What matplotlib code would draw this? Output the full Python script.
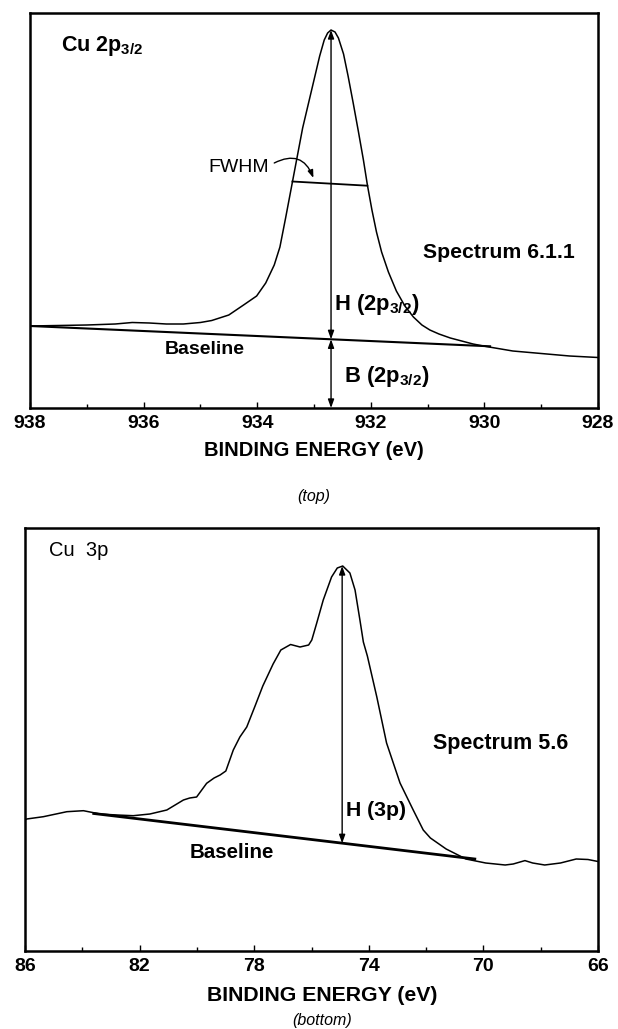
import matplotlib
matplotlib.use('Agg')
import matplotlib.pyplot as plt
from matplotlib.ticker import MultipleLocator

plt.rcParams['font.family'] = ['Liberation Sans', 'DejaVu Sans']
plt.rcParams['mathtext.fontset'] = 'custom'
plt.rcParams['mathtext.rm'] = 'Liberation Sans'
plt.rcParams['mathtext.bf'] = 'Liberation Sans:bold'

# Cu 2p3/2 spectrum (binding energy, intensity in arbitrary units)
be_2p = [938.0, 937.5, 937.0, 936.5, 936.2, 935.9, 935.6, 935.3, 935.0, 934.8,
         934.5, 934.24, 934.01, 933.85, 933.70, 933.60, 933.50, 933.38, 933.30, 933.20,
         933.10, 933.00, 932.90, 932.82, 932.76, 932.70, 932.63, 932.57, 932.48, 932.40,
         932.31, 932.22, 932.13, 932.06, 931.98, 931.90, 931.81, 931.69, 931.55, 931.40,
         931.25, 931.10, 930.96, 930.80, 930.60, 930.40, 930.20, 930.0, 929.5, 929.0,
         928.5, 928.0]
int_2p = [82, 82.5, 83, 84, 85.5, 85, 84, 84, 85.5, 87.5,
          93, 103, 112, 125, 143, 161, 190, 226, 250, 280,
          304, 328, 352, 368, 375, 378, 376, 370, 354, 332,
          305, 277, 248, 223, 198, 176, 156, 136, 117, 102,
          91, 83, 78, 74, 70, 67, 64, 61.8, 57, 54.5,
          52, 50.5]
base_2p_be = [938.0, 929.9]
base_2p_int = [82, 61.7]
peak_2p = (932.70, 378)
base_at_peak_2p = 68.7
fwhm_be = [933.38, 932.06]
fwhm_int = [226.5, 222.3]

# Cu 3p spectrum
be_3p = [86.0, 85.94, 85.36, 84.54, 83.96, 83.38, 82.80, 82.22, 81.64, 81.05,
         80.47, 80.25, 80.01, 79.66, 79.40, 79.19, 78.99, 78.73, 78.50, 78.26,
         77.97, 77.70, 77.34, 77.07, 76.73, 76.40, 76.10, 75.99, 75.82, 75.59,
         75.30, 75.10, 74.91, 74.66, 74.48, 74.31, 74.19, 74.05, 73.72, 73.38,
         72.91, 72.45, 72.10, 71.85, 71.30, 70.61, 69.92, 69.24, 68.96, 68.55,
         68.28, 67.86, 67.31, 66.76, 66.35, 66.0]
int_3p = [131, 132, 134.3, 139.3, 140.3, 137, 136, 135.3, 137, 141,
          151, 153, 154, 167.7, 173, 176, 180, 201, 214, 224,
          245, 265, 287, 301, 306.5, 304, 306, 311, 327.7, 351,
          374, 383, 385, 378, 361, 331, 309, 295, 254, 208,
          168, 141, 121, 113, 102, 92, 88, 86, 87, 90.4,
          88, 86, 88, 92, 91.5, 89.5]
base_3p_be = [83.6, 70.3]
base_3p_int = [137.5, 92]
peak_3p = (74.93, 385)
base_at_peak_3p = 107.7

fig = plt.figure(figsize=(6.18, 10.29), dpi=100)
ax1 = fig.add_axes([30/618, 1-408/1029, 568/618, 395/1029])
ax2 = fig.add_axes([25/618, 1-951/1029, 573/618, 423/1029])

for ax in (ax1, ax2):
    for s in ax.spines.values():
        s.set_linewidth(1.8)
    ax.set_yticks([])
    ax.tick_params(axis='x', direction='in', length=4, width=1, pad=5,
                   labelsize=14)

arr = dict(arrowstyle='<|-|>,head_length=0.5,head_width=0.18', lw=1,
           color='black', shrinkA=0, shrinkB=0)

# ---- top panel
ax1.plot(be_2p, int_2p, color='black', lw=1.1)
ax1.plot(base_2p_be, base_2p_int, color='black', lw=1.5)
ax1.plot(fwhm_be, fwhm_int, color='black', lw=1.3)
ax1.annotate('', xy=(peak_2p[0], peak_2p[1]), xytext=(peak_2p[0], base_at_peak_2p),
             arrowprops=arr)
ax1.annotate('', xy=(peak_2p[0], base_at_peak_2p), xytext=(peak_2p[0], 0),
             arrowprops=arr)
ax1.text(934.33, 241, 'FWHM', ha='center', va='center', fontsize=14)
ax1.annotate('', xy=(933.01, 230), xytext=(933.70, 245),
             arrowprops=dict(arrowstyle='-|>,head_length=0.45,head_width=0.16',
                             lw=1, color='black', shrinkA=0, shrinkB=0,
                             connectionstyle='arc3,rad=-0.55'))
ax1.set_xlim(938, 928)
ax1.set_ylim(0, 395)
ax1.xaxis.set_minor_locator(MultipleLocator(1))
ax1.tick_params(axis='x', which='minor', direction='in', length=3, width=1)
ax1.set_xticks([938, 936, 934, 932, 930, 928])
ax1.set_xticklabels(['938', '936', '934', '932', '930', '928'], fontweight='bold')

ax1.text(0.055, 0.917, r'Cu 2p$_{\mathbf{3/2}}$', transform=ax1.transAxes,
         fontsize=15.5, fontweight='bold', va='center', ha='left')
ax1.text(929.74, 156, 'Spectrum 6.1.1', fontsize=15.3, fontweight='bold',
         ha='center', va='center')
ax1.text(932.64, 104, r'H (2p$_{\mathbf{3/2}}$)', fontsize=15.8, fontweight='bold',
         ha='left', va='center')
ax1.text(934.92, 59, 'Baseline', fontsize=14, fontweight='bold',
         ha='center', va='center')
ax1.text(932.47, 32, r'B (2p$_{\mathbf{3/2}}$)', fontsize=15.8, fontweight='bold',
         ha='left', va='center')
ax1.set_xlabel('BINDING ENERGY (eV)', fontsize=14.5, fontweight='bold')
ax1.xaxis.set_label_coords(0.5, -0.083)
fig.text(314/618, 1-497/1029, '(top)', fontsize=11.5, style='italic',
         ha='center', va='center')

# ---- bottom panel
ax2.plot(be_3p, int_3p, color='black', lw=1.1)
ax2.plot(base_3p_be, base_3p_int, color='black', lw=2)
ax2.annotate('', xy=(peak_3p[0], peak_3p[1]), xytext=(peak_3p[0], base_at_peak_3p),
             arrowprops=arr)
ax2.set_xlim(86, 66)
ax2.set_ylim(0, 423)
ax2.xaxis.set_minor_locator(MultipleLocator(2))
ax2.tick_params(axis='x', which='minor', direction='in', length=3, width=1)
ax2.set_xticks([86, 82, 78, 74, 70, 66])
ax2.set_xticklabels(['86', '82', '78', '74', '70', '66'], fontweight='bold')

ax2.text(0.042, 0.946, 'Cu  3p', transform=ax2.transAxes, fontsize=14.5,
         va='center', ha='left')
ax2.text(69.39, 208, 'Spectrum 5.6', fontsize=15.5, fontweight='bold',
         ha='center', va='center')
ax2.text(74.80, 141, 'H (3p)', fontsize=15.3, fontweight='bold',
         ha='left', va='center')
ax2.text(78.79, 99, 'Baseline', fontsize=14.8, fontweight='bold',
         ha='center', va='center')
ax2.set_xlabel('BINDING ENERGY (eV)', fontsize=15.3, fontweight='bold')
ax2.xaxis.set_label_coords(0.518, -0.083)
fig.text(322/618, 1-1021/1029, '(bottom)', fontsize=11.5, style='italic',
         ha='center', va='center')

plt.savefig('out.png', dpi=100)
